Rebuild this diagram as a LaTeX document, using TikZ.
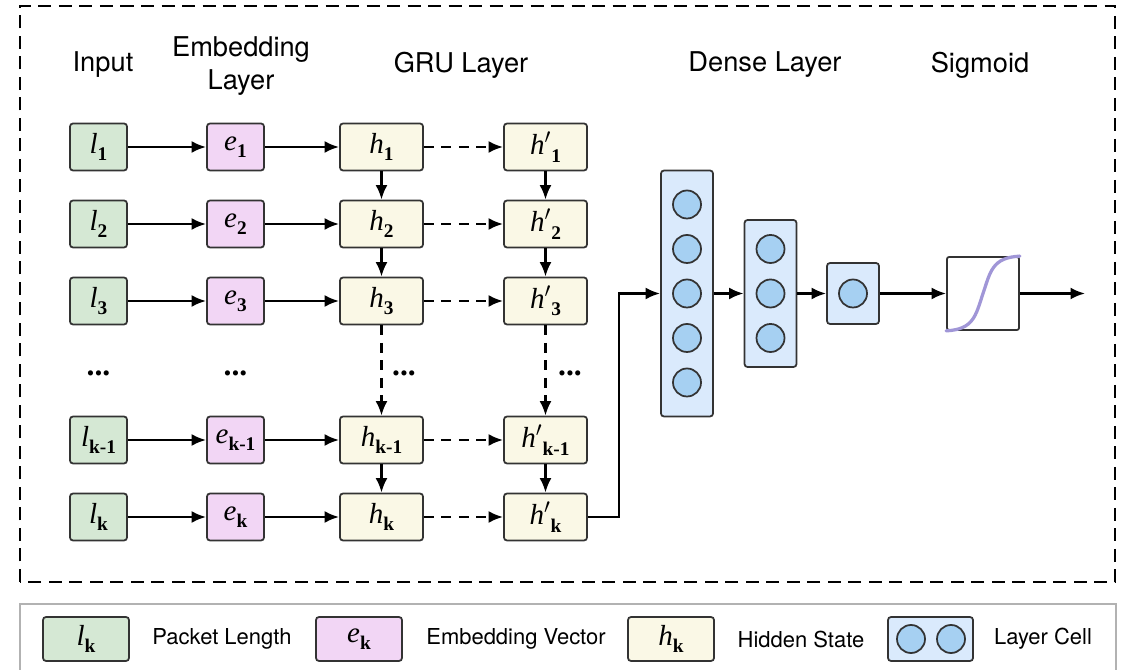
\documentclass[tikz,border=0pt]{standalone}
\usepackage{fontspec}
\setmainfont{Liberation Serif}
\newfontfamily\headfont{TeX Gyre Heros}
\usepackage{tikz}
\usetikzlibrary{arrows.meta,calc,positioning}

\definecolor{lenfill}{RGB}{213,232,212}
\definecolor{embfill}{RGB}{242,214,245}
\definecolor{hidfill}{RGB}{250,248,230}
\definecolor{layfill}{RGB}{218,234,252}
\definecolor{cellfill}{RGB}{166,208,242}
\definecolor{sigline}{RGB}{160,150,215}

\newcommand{\vlab}[2]{\textit{#1}\raisebox{-0.55ex}{\fontsize{11}{12}\selectfont\bfseries #2}}
\newcommand{\vplab}[2]{\textit{#1}$'$\raisebox{-0.55ex}{\fontsize{11}{12}\selectfont\bfseries #2}}

\begin{document}
\begin{tikzpicture}[
  node distance=15.4mm
]

  \path[use as bounding box] (0mm,0mm) rectangle (225.8mm,134mm);

  \tikzstyle{lennode}=[draw=black!80,rectangle,fill=lenfill,line width=0.35mm,rounded corners=0.6mm,minimum height=9.4mm,minimum width=11.4mm,inner sep=0mm,font=\fontsize{16.5}{18}\selectfont]
  \tikzstyle{embnode}=[draw=black!80,rectangle,fill=embfill,line width=0.35mm,rounded corners=0.6mm,minimum height=9.4mm,minimum width=11.4mm,inner sep=0mm,font=\fontsize{16.5}{18}\selectfont]
  \tikzstyle{hidnode}=[draw=black!80,rectangle,fill=hidfill,line width=0.35mm,rounded corners=0.6mm,minimum height=9.4mm,minimum width=16.6mm,inner sep=0mm,font=\fontsize{16.5}{18}\selectfont]
  \tikzstyle{layerbox}=[draw=black!80,rectangle,fill=layfill,line width=0.35mm,rounded corners=0.6mm,minimum width=10.4mm,inner sep=0mm]
  \tikzstyle{cellnode}=[draw=black!80,circle,fill=cellfill,line width=0.35mm,minimum size=5.6mm,inner sep=0mm,node distance=8.9mm]
  \tikzstyle{sigbox}=[draw=black!80,rectangle,fill=white,line width=0.35mm,rounded corners=0.4mm,minimum height=14.6mm,minimum width=14.4mm,inner sep=0mm]

  \tikzstyle{titlenode}=[align=center,font=\headfont\fontsize{15.5}{18.8}\selectfont]
  \tikzstyle{legtext}=[font=\headfont\fontsize{12.5}{15}\selectfont]
  \tikzstyle{dotsnode}=[font=\fontsize{18}{18}\selectfont\bfseries,inner sep=0.5mm]

  \tikzstyle{pointer}=[draw,->,>={Latex[length=2.9mm,width=2.4mm]},line width=0.5mm]
  \tikzstyle{dashptr}=[pointer,dash pattern=on 2mm off 1.5mm]

  % frames
  \draw[line width=0.55mm,dash pattern=on 2.6mm off 1.5mm] (4mm,17.6mm) rectangle (223mm,132.8mm);
  \draw[gray!60,line width=0.3mm] (4mm,0mm) |- (223.2mm,13.2mm) -- (223.2mm,0mm);

  % titles
  \node[titlenode] (tin)  at (20.6mm,121mm) {Input};
  \node[titlenode] (temb) at (48.2mm,120.7mm) {Embedding\\Layer};
  \node[titlenode] (tgru) at (92.2mm,121mm) {GRU Layer};
  \node[titlenode] (tden) at (153mm,121mm) {Dense Layer};
  \node[titlenode] (tsig) at (196mm,121mm) {Sigmoid};

  % input column
  \node[lennode] (l1) at (19.7mm,104.6mm) {\vlab{l}{1}};
  \node[lennode] (l2) [below of=l1] {\vlab{l}{2}};
  \node[lennode] (l3) [below of=l2] {\vlab{l}{3}};
  \node[lennode] (lk1) at (19.7mm,46mm) {\vlab{l}{k-1}};
  \node[lennode] (lk) [below of=lk1] {\vlab{l}{k}};

  % embedding column
  \node[embnode,node distance=27.4mm] (e1) [right of=l1] {\vlab{e}{1}};
  \node[embnode,node distance=27.4mm] (e2) [right of=l2] {\vlab{e}{2}};
  \node[embnode,node distance=27.4mm] (e3) [right of=l3] {\vlab{e}{3}};
  \node[embnode,node distance=27.4mm] (ek1) [right of=lk1] {\vlab{e}{k-1}};
  \node[embnode,node distance=27.4mm] (ek) [right of=lk] {\vlab{e}{k}};

  % gru columns
  \node[hidnode,node distance=29.2mm] (h1) [right of=e1] {\vlab{h}{1}};
  \node[hidnode,node distance=29.2mm] (h2) [right of=e2] {\vlab{h}{2}};
  \node[hidnode,node distance=29.2mm] (h3) [right of=e3] {\vlab{h}{3}};
  \node[hidnode,node distance=29.2mm] (hk1) [right of=ek1] {\vlab{h}{k-1}};
  \node[hidnode,node distance=29.2mm] (hk) [right of=ek] {\vlab{h}{k}};

  \node[hidnode,node distance=32.8mm] (hp1) [right of=h1] {\vplab{h}{1}};
  \node[hidnode,node distance=32.8mm] (hp2) [right of=h2] {\vplab{h}{2}};
  \node[hidnode,node distance=32.8mm] (hp3) [right of=h3] {\vplab{h}{3}};
  \node[hidnode,node distance=32.8mm] (hpk1) [right of=hk1] {\vplab{h}{k-1}};
  \node[hidnode,node distance=32.8mm] (hpk) [right of=hk] {\vplab{h}{k}};

  % dots
  \node[dotsnode] (ldots) at (19.7mm,59.4mm) {...};
  \node[dotsnode] (edots) at (47.1mm,59.4mm) {...};
  \node[dotsnode] (hdots) at (80.8mm,59.4mm) {...};
  \node[dotsnode] (hpdots) at (114mm,59.4mm) {...};

  % dense layers
  \node[layerbox,minimum height=49.2mm] (d1) at (137.4mm,75.3mm) {};
  \node[cellnode] (d1c) at (d1) {};
  \node[cellnode] (d1b) [above of=d1c] {};
  \node[cellnode] (d1a) [above of=d1b] {};
  \node[cellnode] (d1d) [below of=d1c] {};
  \node[cellnode] (d1e) [below of=d1d] {};

  \node[layerbox,minimum height=29.4mm] (d2) at (154.1mm,75.3mm) {};
  \node[cellnode] (d2b) at (d2) {};
  \node[cellnode] (d2a) [above of=d2b] {};
  \node[cellnode] (d2c) [below of=d2b] {};

  \node[layerbox,minimum height=12.2mm] (d3) at (170.6mm,75.3mm) {};
  \node[cellnode] (d3a) at (d3) {};

  \node[sigbox] (sig) at (196.6mm,75.3mm) {};
  \draw[sigline,line width=0.65mm,line cap=round] (sig.south west) .. controls +(5.5mm,0.3mm) and +(-1.5mm,-4.5mm) .. (sig.center) .. controls +(1.5mm,4.5mm) and +(-5.5mm,-0.3mm) .. (sig.north east);

  \coordinate (turn) at (123.8mm,75.3mm);
  \coordinate (out) at (217mm,75.3mm);

  % pointers
  \draw[pointer] (l1) -- (e1);
  \draw[pointer] (l2) -- (e2);
  \draw[pointer] (l3) -- (e3);
  \draw[pointer] (lk1) -- (ek1);
  \draw[pointer] (lk) -- (ek);

  \draw[pointer] (e1) -- (h1);
  \draw[pointer] (e2) -- (h2);
  \draw[pointer] (e3) -- (h3);
  \draw[pointer] (ek1) -- (hk1);
  \draw[pointer] (ek) -- (hk);

  \draw[dashptr] (h1) -- (hp1);
  \draw[dashptr] (h2) -- (hp2);
  \draw[dashptr] (h3) -- (hp3);
  \draw[dashptr] (hk1) -- (hpk1);
  \draw[dashptr] (hk) -- (hpk);

  \draw[pointer] (h1) -- (h2);
  \draw[pointer] (h2) -- (h3);
  \draw[dashptr] (h3) -- (hk1);
  \draw[pointer] (hk1) -- (hk);

  \draw[pointer] (hp1) -- (hp2);
  \draw[pointer] (hp2) -- (hp3);
  \draw[dashptr] (hp3) -- (hpk1);
  \draw[pointer] (hpk1) -- (hpk);

  \draw[pointer] (hpk.east) -| (turn) -- (d1);
  \draw[pointer] (d1) -- (d2);
  \draw[pointer] (d2) -- (d3);
  \draw[pointer] (d3) -- (sig);
  \draw[pointer] (sig) -- (out);

  % legend
  \node[lennode,minimum width=17.2mm,minimum height=8.8mm] (leglen) at (17.2mm,6.2mm) {\vlab{l}{k}};
  \node[legtext] (leglentxt) at (44.4mm,6.2mm) {Packet Length};
  \node[embnode,minimum width=17.2mm,minimum height=8.8mm] (legemb) at (71.8mm,6.2mm) {\vlab{e}{k}};
  \node[legtext] (legembtxt) at (103.2mm,6.2mm) {Embedding Vector};
  \node[hidnode,minimum width=17.2mm,minimum height=8.8mm] (leghid) at (134.2mm,6.2mm) {\vlab{h}{k}};
  \node[legtext] (leghidtxt) at (160.2mm,6.2mm) {Hidden State};
  \node[layerbox,minimum width=17mm,minimum height=8.8mm] (legcell) at (186.1mm,6.2mm) {};
  \node[cellnode,minimum size=5.6mm] (legc1) at (182.2mm,6.2mm) {};
  \node[cellnode,minimum size=5.6mm] (legc2) at (190.2mm,6.2mm) {};
  \node[legtext] (legcelltxt) at (208.6mm,6.2mm) {Layer Cell};

\end{tikzpicture}
\end{document}
